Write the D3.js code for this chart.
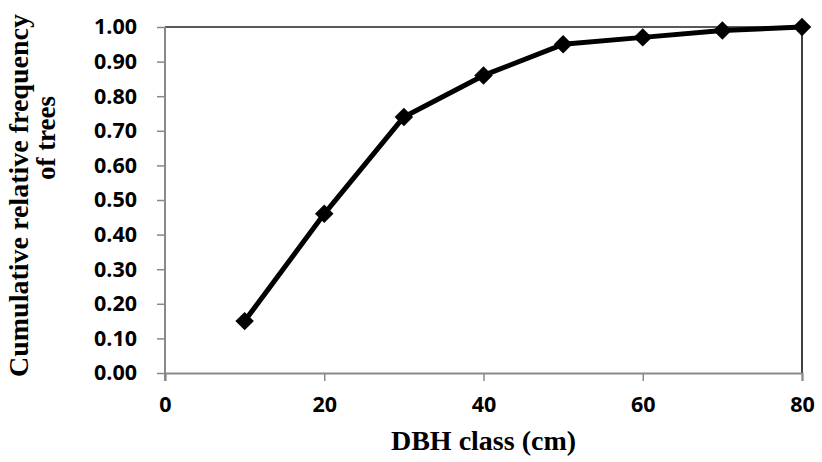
<!DOCTYPE html>
<html>
<head>
<meta charset="utf-8">
<script src="https://cdn.jsdelivr.net/npm/d3@7"></script>
<style>
  body { margin: 0; background: #fff; }
  svg { display: block; }
</style>
</head>
<body>
<div id="chart"></div>
<script>
const WIDTH = 822
const HEIGHT = 462

// DBH class (cm) and cumulative relative frequency
const dbhClass = [10, 20, 30, 40, 50, 60, 70, 80];
const cumFreq = [0.15, 0.46, 0.74, 0.86, 0.95, 0.97, 0.99, 1.00];
const xTicks = [0, 20, 40, 60, 80];
const yTicks = [0, 0.1, 0.2, 0.3, 0.4, 0.5, 0.6, 0.7, 0.8, 0.9, 1.0];

const margin = { top: 27, right: 20, bottom: 89, left: 165 };
const plotW = WIDTH - margin.left - margin.right;
const plotH = HEIGHT - margin.top - margin.bottom;

var svg = d3.select("#chart").append("svg")
    .attr("width", WIDTH)
    .attr("height", HEIGHT);

var g = svg.append("g")
    .attr("transform", `translate(${margin.left},${margin.top})`);

var xScale = d3.scaleLinear().domain([0, 80]).range([0, plotW]);
var yScale = d3.scaleLinear().domain([0, 1]).range([plotH, 0]);

// top and right frame lines
g.append("line")
    .attr("x1", 0).attr("x2", plotW)
    .attr("y1", 0).attr("y2", 0)
    .attr("stroke", "#222").attr("stroke-width", 1.5);
g.append("line")
    .attr("x1", plotW).attr("x2", plotW)
    .attr("y1", 0).attr("y2", plotH)
    .attr("stroke", "#000").attr("stroke-width", 1.5);

// y axis
var yAxis = g.append("g")
    .call(d3.axisLeft(yScale).tickValues(yTicks).tickSize(8).tickPadding(20)
        .tickFormat(d3.format(".2f")));

// x axis
var xAxis = g.append("g")
    .attr("transform", `translate(0,${plotH})`)
    .call(d3.axisBottom(xScale).tickValues(xTicks).tickSize(8).tickPadding(16)
        .tickFormat(d3.format("d")));

[yAxis, xAxis].forEach(ax => {
    ax.select(".domain").attr("stroke", "#898989").attr("stroke-width", 2);
    ax.selectAll(".tick line").attr("stroke", "#898989").attr("stroke-width", 1.5);
    ax.selectAll(".tick text")
        .attr("fill", "#000")
        .attr("font-family", "'Open Sans', sans-serif")
        .attr("font-weight", "bold")
        .attr("font-size", "21.5px");
});
yAxis.select(".domain").attr("d", `M0,0V${plotH + 8}`);

// the line
var line = d3.line()
    .x((d, i) => xScale(dbhClass[i]))
    .y(d => yScale(d));

g.append("path")
    .datum(cumFreq)
    .attr("fill", "none")
    .attr("stroke", "#000")
    .attr("stroke-width", 5)
    .attr("stroke-linejoin", "round")
    .attr("d", line);

// diamond markers
g.selectAll(".marker")
    .data(cumFreq)
    .enter()
    .append("path")
    .attr("class", "marker")
    .attr("d", d3.symbol().type(d3.symbolSquare).size(170))
    .attr("transform", (d, i) => `translate(${xScale(dbhClass[i])},${yScale(d)}) rotate(45)`)
    .attr("fill", "#000");

// axis titles
const titleFont = "'Liberation Serif', 'Times New Roman', serif";

svg.append("text")
    .attr("x", margin.left + plotW / 2)
    .attr("y", 450)
    .attr("text-anchor", "middle")
    .attr("font-family", titleFont)
    .attr("font-weight", "bold")
    .attr("font-size", "28px")
    .text("DBH class (cm)");

svg.append("text")
    .attr("transform", "translate(28,377) rotate(-90)")
    .attr("text-anchor", "start")
    .attr("font-family", titleFont)
    .attr("font-weight", "bold")
    .attr("font-size", "28px")
    .text("Cumulative relative frequency");

svg.append("text")
    .attr("transform", "translate(55,138) rotate(-90)")
    .attr("text-anchor", "middle")
    .attr("font-family", titleFont)
    .attr("font-weight", "bold")
    .attr("font-size", "27px")
    .text("of trees");
</script>
</body>
</html>
